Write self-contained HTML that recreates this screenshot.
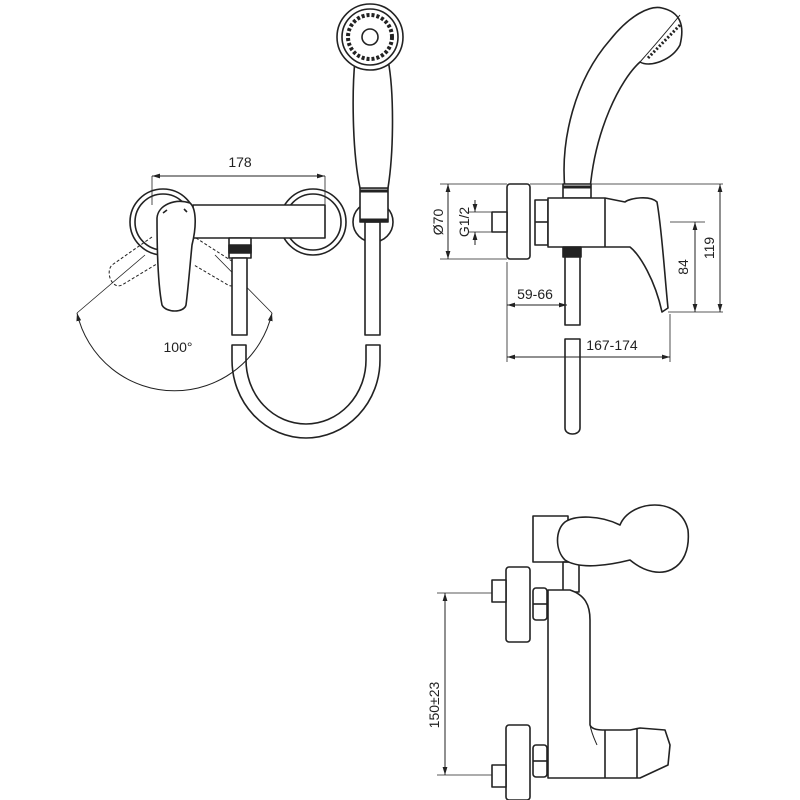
<!DOCTYPE html>
<html><head><meta charset="utf-8"><style>
html,body{margin:0;padding:0;background:#fff;}
svg{display:block}
text{font-family:"Liberation Sans",sans-serif;fill:#222}
</style></head><body>
<svg width="800" height="800" viewBox="0 0 800 800" xmlns="http://www.w3.org/2000/svg">
<defs>
<marker id="a" viewBox="0 0 10 10" refX="10" refY="5" markerWidth="8" markerHeight="8" orient="auto-start-reverse"><path d="M0,2 L10,5 L0,8z" fill="#222"/></marker>
</defs>
<g fill="none" stroke="#222" stroke-width="1.6" stroke-linejoin="round">
<!-- FRONT VIEW -->
<line x1="152" y1="176" x2="325" y2="176" stroke-width="1" marker-start="url(#a)" marker-end="url(#a)"/>
<line x1="152" y1="176" x2="152" y2="205" stroke-width="0.8"/>
<line x1="325" y1="176" x2="325" y2="205" stroke-width="0.8"/>
<circle cx="163" cy="222" r="33"/>
<circle cx="163" cy="222" r="28"/>
<circle cx="313" cy="222" r="33"/>
<circle cx="313" cy="222" r="28"/>
<rect x="193" y="205" width="132" height="33" fill="#fff"/>
<path d="M152,237 L112,265 C105,272 112,290 122,285 L160,262" stroke-width="1" stroke-dasharray="3,2"/>
<path d="M196,238 L238,265 C245,272 238,290 228,285 L194,265" stroke-width="1" stroke-dasharray="3,2"/>
<path d="M157,218 C158,205 175,198 190,203 C196,208 197,225 192,245 C190,265 188,290 186,305 C184,313 166,313 162,305 C158,285 157,250 157,218Z" fill="#fff"/>
<path d="M163,213 l4,-3 M187,212 l-3,-3"/>
<path d="M145,255 L77,313 M215,255 L272,313" stroke-width="0.8"/>
<path d="M77,313 A100,100 0 0 0 272,313" stroke-width="1" marker-start="url(#a)" marker-end="url(#a)"/>
<rect x="229" y="238" width="22" height="20" fill="#fff"/>
<rect x="229" y="245" width="22" height="8" fill="#222"/>
<rect x="232" y="258" width="15" height="77" fill="#fff"/>
<path d="M232,345 L232,360 A74,78 0 0 0 380,360 L380,345 L366,345 L366,360 A60,64 0 0 1 246,360 L246,345 Z"/>
<circle cx="373" cy="222" r="20"/>
<rect x="365" y="222" width="15" height="113" fill="#fff"/>
<rect x="360" y="188" width="28" height="34" fill="#fff"/>
<line x1="360" y1="191" x2="388" y2="191" stroke-width="3"/>
<line x1="360" y1="220" x2="388" y2="220" stroke-width="3"/>
<path d="M355,60 C352,90 352,150 360,188 L388,188 C394,150 394,90 388,60" fill="#fff"/>
<circle cx="370" cy="37" r="33" fill="#fff"/>
<circle cx="370" cy="37" r="28"/>
<circle cx="370" cy="37" r="22" stroke-width="4" stroke-dasharray="3,2"/>
<circle cx="370" cy="37" r="8"/>
<!-- SIDE VIEW -->
<path d="M565,190 C560,140 575,80 610,40 C630,15 650,5 662,8 C680,12 685,25 680,45 C672,60 650,68 640,62 C620,80 595,130 590,190 Z" fill="#fff"/>
<path d="M640,62 C655,45 672,25 680,15" stroke-width="1"/>
<path d="M648,58 L680,25" stroke-width="3" stroke-dasharray="2,2"/>
<rect x="563" y="184" width="28" height="14" fill="#fff"/>
<line x1="563" y1="187" x2="591" y2="187" stroke-width="3"/>
<line x1="530" y1="184" x2="723" y2="184" stroke-width="0.8"/>
<line x1="440" y1="184" x2="507" y2="184" stroke-width="0.8"/>
<line x1="440" y1="259" x2="507" y2="259" stroke-width="0.8"/>
<line x1="448" y1="184" x2="448" y2="259" stroke-width="1" marker-start="url(#a)" marker-end="url(#a)"/>
<line x1="468" y1="212" x2="492" y2="212" stroke-width="0.8"/>
<line x1="468" y1="232" x2="492" y2="232" stroke-width="0.8"/>
<line x1="475" y1="200" x2="475" y2="212" stroke-width="1" marker-end="url(#a)"/>
<line x1="475" y1="245" x2="475" y2="232" stroke-width="1" marker-end="url(#a)"/>
<rect x="507" y="184" width="23" height="75" rx="3" fill="#fff"/>
<rect x="492" y="212" width="15" height="20" fill="#fff"/>
<rect x="535" y="200" width="13" height="45" fill="#fff"/>
<line x1="535" y1="222" x2="548" y2="222"/>
<path d="M548,198 L605,198 L625,202 C630,198 650,195 657,202 C662,230 665,280 668,308 L662,312 C655,280 640,255 630,247 L548,247 Z" fill="#fff"/>
<line x1="605" y1="198" x2="605" y2="247"/>
<rect x="563" y="247" width="18" height="10" fill="#222"/>
<rect x="565" y="257" width="15" height="68" fill="#fff"/>
<path d="M565,339 L580,339 L580,428 C580,436 565,436 565,428 Z"/>
<line x1="670" y1="222" x2="705" y2="222" stroke-width="0.8"/>
<line x1="668" y1="312" x2="723" y2="312" stroke-width="0.8"/>
<line x1="695" y1="222" x2="695" y2="312" stroke-width="1" marker-start="url(#a)" marker-end="url(#a)"/>
<line x1="720" y1="184" x2="720" y2="312" stroke-width="1" marker-start="url(#a)" marker-end="url(#a)"/>
<line x1="507" y1="262" x2="507" y2="362" stroke-width="0.8"/>
<line x1="670" y1="314" x2="670" y2="362" stroke-width="0.8"/>
<line x1="507" y1="305" x2="567" y2="305" stroke-width="1" marker-start="url(#a)" marker-end="url(#a)"/>
<line x1="507" y1="357" x2="670" y2="357" stroke-width="1" marker-start="url(#a)" marker-end="url(#a)"/>
<!-- BOTTOM VIEW -->
<rect x="533" y="516" width="35" height="46" fill="#fff"/>
<rect x="563" y="562" width="16" height="30"/>
<path d="M565,522 C575,515 600,515 620,525 C630,500 680,495 688,530 C692,570 660,585 630,560 C610,565 580,570 565,560 C555,550 555,530 565,522Z" fill="#fff"/>
<rect x="506" y="567" width="24" height="75" rx="3" fill="#fff"/>
<rect x="492" y="580" width="14" height="22" fill="#fff"/>
<rect x="506" y="725" width="24" height="75" rx="3" fill="#fff"/>
<rect x="492" y="765" width="14" height="22" fill="#fff"/>
<rect x="533" y="588" width="14" height="32" rx="3" fill="#fff"/>
<line x1="533" y1="604" x2="547" y2="604"/>
<rect x="533" y="745" width="14" height="32" rx="3" fill="#fff"/>
<line x1="533" y1="761" x2="547" y2="761"/>
<path d="M548,590 L570,590 C585,595 590,605 590,620 L590,725 C592,730 600,730 605,730 L630,730 L640,728 L665,730 L670,745 L668,765 L640,778 L548,778 Z" fill="#fff"/>
<line x1="605" y1="730" x2="605" y2="778"/>
<line x1="637" y1="728" x2="637" y2="778"/>
<path d="M590,725 C592,735 595,740 597,745" stroke-width="1"/>
<line x1="437" y1="593" x2="492" y2="593" stroke-width="0.8"/>
<line x1="437" y1="775" x2="492" y2="775" stroke-width="0.8"/>
<line x1="445" y1="593" x2="445" y2="775" stroke-width="1" marker-start="url(#a)" marker-end="url(#a)"/>
</g>
<g font-size="14">
<text x="240" y="167" text-anchor="middle">178</text>
<text x="178" y="352" text-anchor="middle">100°</text>
<text x="535" y="299" text-anchor="middle">59-66</text>
<text x="612" y="350" text-anchor="middle">167-174</text>
<text transform="translate(443,222) rotate(-90)" text-anchor="middle">Ø70</text>
<text transform="translate(469,222) rotate(-90)" text-anchor="middle">G1/2</text>
<text transform="translate(688,267) rotate(-90)" text-anchor="middle">84</text>
<text transform="translate(714,248) rotate(-90)" text-anchor="middle">119</text>
<text transform="translate(439,705) rotate(-90)" text-anchor="middle">150±23</text>
</g>
</svg>
</body></html>
